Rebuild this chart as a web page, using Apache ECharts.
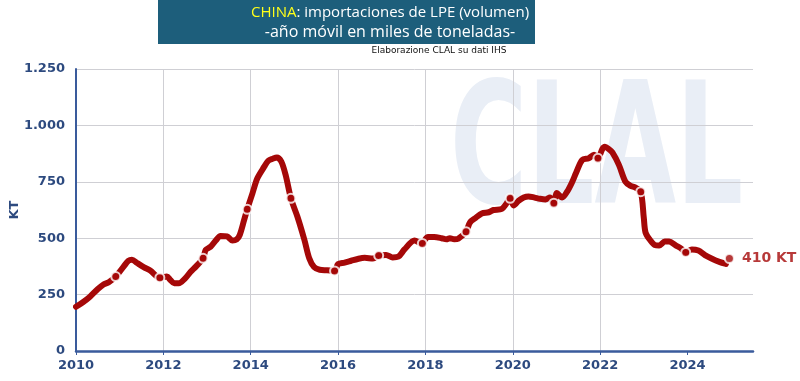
<!DOCTYPE html>
<html>
<head>
<meta charset="utf-8">
<script src="https://cdn.jsdelivr.net/npm/echarts@6/dist/echarts.min.js"></script>
<style>html,body{margin:0;padding:0;background:#fff}#c{width:800px;height:381px}</style>
</head>
<body>
<div id="c"></div>
<script>
// Rolling-year LPE imports, China (KT)
const years = [2010.00,2010.15,2010.32,2010.50,2010.63,2010.75,2010.91,2011.09,2011.20,2011.28,2011.40,2011.55,2011.70,2011.92,2012.08,2012.16,2012.25,2012.35,2012.50,2012.62,2012.75,2012.91,2012.97,2013.08,2013.20,2013.31,2013.46,2013.58,2013.68,2013.75,2013.85,2013.92,2014.04,2014.15,2014.31,2014.40,2014.50,2014.60,2014.70,2014.80,2014.92,2015.07,2015.23,2015.34,2015.45,2015.58,2015.75,2015.92,2016.00,2016.15,2016.30,2016.45,2016.61,2016.80,2016.93,2017.10,2017.25,2017.38,2017.52,2017.75,2017.91,2018.06,2018.20,2018.37,2018.48,2018.56,2018.66,2018.75,2018.93,2019.02,2019.15,2019.29,2019.45,2019.56,2019.75,2019.86,2019.94,2020.02,2020.13,2020.25,2020.36,2020.50,2020.62,2020.75,2020.85,2020.94,2021.01,2021.13,2021.24,2021.35,2021.45,2021.59,2021.74,2021.86,2021.95,2022.05,2022.11,2022.20,2022.28,2022.43,2022.58,2022.70,2022.80,2022.93,2023.00,2023.04,2023.15,2023.25,2023.35,2023.48,2023.58,2023.73,2023.85,2023.96,2024.10,2024.25,2024.40,2024.55,2024.73,2024.88];
const values = [196,215,241,275,295,305,330,374,400,405,390,372,357,325,330,315,300,300,322,350,375,411,448,462,490,510,508,490,495,515,581,628,699,765,817,843,852,858,840,780,677,595,492,411,372,360,358,355,385,392,400,408,413,410,423,426,415,418,450,490,477,505,505,500,495,500,495,498,529,570,590,610,615,625,630,655,677,645,665,680,685,680,675,672,680,655,700,680,705,745,790,847,854,870,854,895,905,895,880,825,750,732,725,706,590,525,490,470,468,485,485,468,455,437,450,445,425,410,395,386];
// December markers
const markerYears = [2010.91,2011.92,2012.91,2013.92,2014.92,2015.92,2016.93,2017.93,2018.93,2019.94,2020.94,2021.95,2022.93,2023.96,2024.96];
const markerValues = [330,325,411,628,677,355,423,477,529,677,655,854,706,437,410];
const xTickYears = [2010,2012,2014,2016,2018,2020,2022,2024];
const yTicks = [0,250,500,750,1000,1250];

const titleLine1a = 'CHINA';
const titleLine1b = ': importaciones de LPE (volumen)';
const titleLine2 = '-año móvil en miles de toneladas-';
const sourceText = 'Elaborazione CLAL su dati IHS';
const unit = 'KT';

const lineData = years.map((y, i) => [y, values[i]]);
const markerData = markerYears.map((y, i) => [y, markerValues[i]]);
const lastIdx = markerData.length - 1;

const axisBlue = '#3a5b9c';
const labelBlue = '#2d4a7f';
const red = '#a50808';
const fmt = v => String(v).replace(/\B(?=(\d{3})+(?!\d))/g, '.');

const chart = echarts.init(document.getElementById('c'), null, {renderer: 'canvas'});
chart.setOption({
  animation: false,
  backgroundColor: '#fff',
  grid: {left: 76, right: 47, top: 69, bottom: 30, containLabel: false, outerBoundsMode: 'none'},
  graphic: [
    {type: 'text', left: 450, top: 74, z: -10, silent: true, scaleX: 0.62,
     style: {text: 'CLAL', font: '900 170px "DejaVu Sans", sans-serif', fill: '#e9eef6'}},
    {type: 'rect', shape: {x: 158, y: 0, width: 377, height: 44}, style: {fill: '#1d5e7b'}},
    {type: 'text', x: 390, y: 13, style: {
      text: '{y|' + titleLine1a + '}{w|' + titleLine1b + '}', align: 'center', verticalAlign: 'middle',
      rich: {y: {fill: '#ffff1a', font: '15px "Open Sans", sans-serif'}, w: {fill: '#ffffff', font: '15px "Open Sans", sans-serif'}}}},
    {type: 'text', x: 390, y: 32, style: {text: titleLine2, align: 'center', verticalAlign: 'middle',
      fill: '#ffffff', font: '16px "Open Sans", sans-serif'}},
    {type: 'text', x: 439, y: 51, style: {text: sourceText, align: 'center', verticalAlign: 'middle',
      fill: '#111', font: '9px "DejaVu Sans", sans-serif'}}
  ],
  xAxis: {
    type: 'value', min: 2010, max: 2025.5, interval: 2,
    axisLine: {show: true, onZero: false, lineStyle: {color: axisBlue, width: 2.5}},
    axisTick: {show: true, length: 4, lineStyle: {color: axisBlue}, customValues: xTickYears},
    axisLabel: {color: labelBlue, fontWeight: 'bold', fontFamily: '"DejaVu Sans", Verdana, sans-serif', fontSize: 13, margin: 8,
      customValues: xTickYears, formatter: v => String(v)},
    splitLine: {show: true, showMinLine: false, showMaxLine: false, lineStyle: {color: '#cfcfd4', width: 1}}
  },
  yAxis: {
    type: 'value', min: 0, max: 1250, interval: 250,
    name: unit, nameLocation: 'middle', nameGap: 55, nameRotate: 90, nameMoveOverlap: false,
    nameTextStyle: {color: labelBlue, fontWeight: 'bold', fontFamily: '"DejaVu Sans", Verdana, sans-serif', fontSize: 13},
    axisLine: {show: true, lineStyle: {color: axisBlue, width: 2}},
    axisTick: {show: false},
    axisLabel: {color: labelBlue, fontWeight: 'bold', fontFamily: '"DejaVu Sans", Verdana, sans-serif', fontSize: 13, margin: 11,
      formatter: v => fmt(v)},
    splitLine: {show: true, lineStyle: {color: '#cfcfd4', width: 1}}
  },
  series: [
    {type: 'line', data: lineData, showSymbol: false, smooth: 0.3,
     lineStyle: {color: red, width: 6, cap: 'round', join: 'round'}, z: 3},
    {type: 'scatter', data: markerData, symbol: 'circle', symbolSize: 9, z: 4,
     itemStyle: {color: red, borderColor: '#fff', borderWidth: 2},
     label: {show: true, position: 'right', distance: 7, color: red, fontWeight: 'bold',
       fontFamily: '"DejaVu Sans", Verdana, sans-serif', fontSize: 14,
       formatter: p => p.dataIndex === lastIdx ? p.value[1] + ' ' + unit : ''}}
  ]
});
</script>
</body>
</html>
